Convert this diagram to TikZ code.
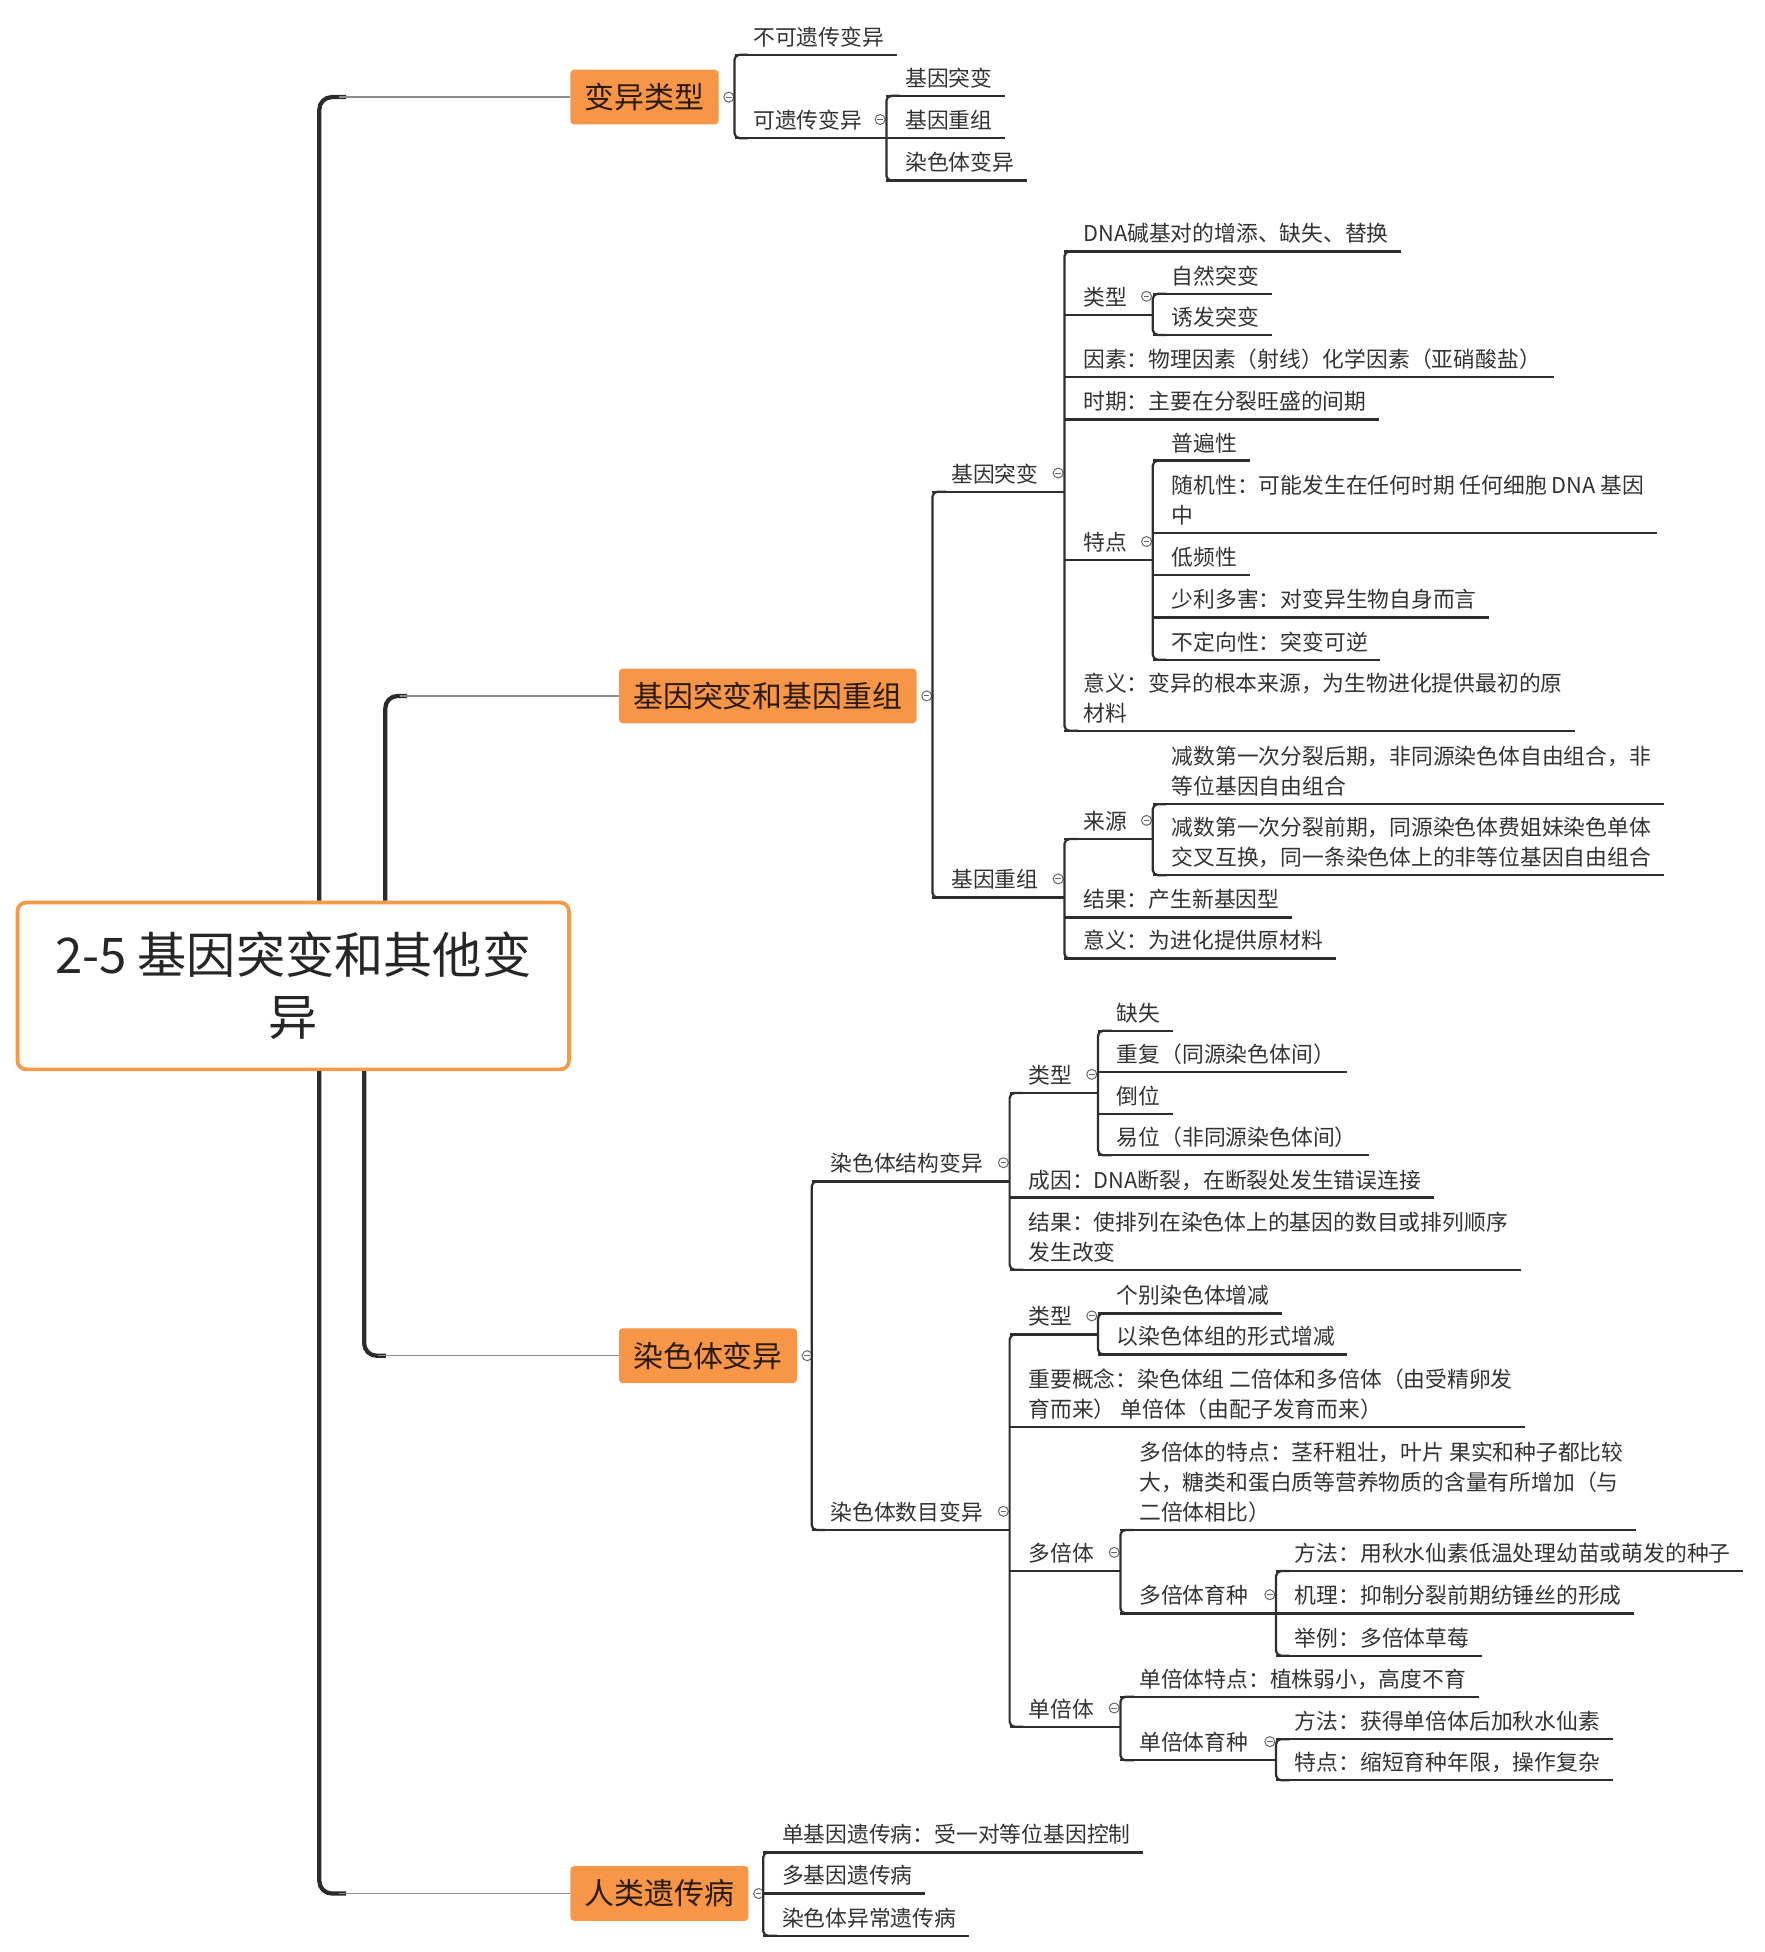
\documentclass[tikz,border=0pt]{standalone}
\usepackage{fontspec}
\setmainfont{Noto Sans CJK SC}
\usetikzlibrary{calc}
\definecolor{orng}{HTML}{F79646}
\definecolor{obord}{HTML}{F59A48}
\definecolor{txt}{HTML}{333333}
\definecolor{ln}{HTML}{2E2E2E}
\definecolor{toptxt}{HTML}{2A1A10}
\definecolor{trunkc}{HTML}{2B2B2B}
\tikzset{
  lf/.style={anchor=south west, inner sep=0pt, text depth=0pt, align=left,
    font=\fontsize{17.5}{24}\selectfont, text=txt},
  ul/.style={line width=1.8pt, draw=ln},
  vl/.style={line width=1.8pt, draw=ln, rounded corners=4pt},
  tog/.style={circle, draw=black!60, line width=0.8pt, fill=white, minimum size=8pt, inner sep=0pt},
  togdash/.style={draw=black!60, line width=0.7pt},
  topic/.style={fill=orng, rounded corners=3pt, font=\fontsize{24}{28}\selectfont, text=toptxt,
    inner xsep=11.5pt, inner ysep=0pt, minimum height=44pt, anchor=west},
  trunk/.style={line width=3.4pt, draw=trunkc, rounded corners=10pt},
  link/.style={line width=1.2pt, draw=black!45},
  mainbox/.style={draw=obord, line width=3pt, rounded corners=7pt, fill=white,
    minimum width=443pt, minimum height=134pt, align=center,
    font=\fontsize{39.5}{50}\selectfont, text=black!85}
}
\newcommand\lfnode[4]{%
  \node[lf] (#1) at (#2+15,#3-7.5) {#4};
  \draw[ul] (#2,#3) -- ($(#1.south east)+(10,7.5)$);}
\newcommand\prnode[5]{%
  \node[lf] (#1) at (#2+15,#3-7.5) {#4};
  \draw[ul] (#2,#3) -- (#5,#3);
  \node[tog] (#1c) at (#5-5,#3-15) {};
  \draw[togdash] ([xshift=-2.2pt]#1c.center) -- ([xshift=2.2pt]#1c.center);}
\newcommand\vbr[2]{%
  \draw[vl] ($(#1.south west)+(-4,7.5)$) -- ($(#1.south west)+(-15,7.5)$) -- ($(#2.south west)+(-15,7.5)$) -- ($(#2.south west)+(-4,7.5)$);}
\newcommand\topictog[1]{%
  \node[tog] (#1c) at ([xshift=8pt]#1.east) {};
  \draw[togdash] ([xshift=-2.2pt]#1c.center) -- ([xshift=2.2pt]#1c.center);}
\begin{document}
\begin{tikzpicture}[x=1pt,y=-1pt]
\useasboundingbox (0,0) rectangle (1417,1568);
\fill[white] (0,0) rectangle (1417,1568);

% main node
\node[mainbox] (main) at (235.5,792) {2-5 基因突变和其他变\\异};

% topics
\node[topic] (t1) at (458,78) {变异类型};
\node[topic] (t2) at (497,559) {基因突变和基因重组};
\node[topic] (t3) at (497,1089) {染色体变异};
\node[topic] (t4) at (458,1521) {人类遗传病};

% trunk
\draw[trunk] ([xshift=244pt]main.north west) |- ($(t1.west)+(-180,0)$);
\draw[link] ($(t1.west)+(-186,0)$) -- (t1.west);
\draw[trunk] ([xshift=297pt]main.north west) |- ($(t2.west)+(-170,0)$);
\draw[link] ($(t2.west)+(-176,0)$) -- (t2.west);
\draw[trunk] ([xshift=280pt]main.south west) |- ($(t3.west)+(-187,0)$);
\draw[link] ($(t3.west)+(-193,0)$) -- (t3.west);
\draw[trunk] ([xshift=244pt]main.south west) |- ($(t4.west)+(-180,0)$);
\draw[link] ($(t4.west)+(-186,0)$) -- (t4.west);

\topictog{t1}
\topictog{t2}
\topictog{t3}
\topictog{t4}

% ---------- section 1
\lfnode{a1}{590}{44}{不可遗传变异}
\prnode{a2}{590}{111}{可遗传变异}{712}
\lfnode{a21}{712}{77}{基因突变}
\lfnode{a22}{712}{111}{基因重组}
\lfnode{a23}{712}{145}{染色体变异}
\vbr{a1}{a2}
\vbr{a21}{a23}

% ---------- section 2
\prnode{b1}{749}{395}{基因突变}{855}
\lfnode{b11}{855}{202}{DNA碱基对的增添、缺失、替换}
\prnode{b12}{855}{253}{类型}{926}
\lfnode{b121}{926}{236}{自然突变}
\lfnode{b122}{926}{269}{诱发突变}
\lfnode{b13}{855}{303}{因素：物理因素（射线）化学因素（亚硝酸盐）}
\lfnode{b14}{855}{337}{时期：主要在分裂旺盛的间期}
\prnode{b15}{855}{450}{特点}{926}
\lfnode{b151}{926}{370}{普遍性}
\lfnode{b152}{926}{428}{随机性：可能发生在任何时期 任何细胞 DNA 基因\\中}
\lfnode{b153}{926}{462}{低频性}
\lfnode{b154}{926}{496}{少利多害：对变异生物自身而言}
\lfnode{b155}{926}{530}{不定向性：突变可逆}
\lfnode{b16}{855}{587}{意义：变异的根本来源，为生物进化提供最初的原\\材料}
\prnode{b2}{749}{721}{基因重组}{855}
\prnode{b21}{855}{674}{来源}{926}
\lfnode{b211}{926}{646}{减数第一次分裂后期，非同源染色体自由组合，非\\等位基因自由组合}
\lfnode{b212}{926}{703}{减数第一次分裂前期，同源染色体费姐妹染色单体\\交叉互换，同一条染色体上的非等位基因自由组合}
\lfnode{b22}{855}{737}{结果：产生新基因型}
\lfnode{b23}{855}{770}{意义：为进化提供原材料}
\vbr{b1}{b2}
\vbr{b11}{b16}
\vbr{b121}{b122}
\vbr{b151}{b155}
\vbr{b21}{b23}
\vbr{b211}{b212}

% ---------- section 3
\prnode{c1}{652}{949}{染色体结构变异}{811}
\prnode{c11}{811}{878}{类型}{882}
\lfnode{c111}{882}{828}{缺失}
\lfnode{c112}{882}{861}{重复（同源染色体间）}
\lfnode{c113}{882}{895}{倒位}
\lfnode{c114}{882}{928}{易位（非同源染色体间）}
\lfnode{c12}{811}{962}{成因：DNA断裂，在断裂处发生错误连接}
\lfnode{c13}{811}{1020}{结果：使排列在染色体上的基因的数目或排列顺序\\发生改变}
\prnode{c2}{652}{1229}{染色体数目变异}{811}
\prnode{c21}{811}{1072}{类型}{882}
\lfnode{c211}{882}{1055}{个别染色体增减}
\lfnode{c212}{882}{1088}{以染色体组的形式增减}
\lfnode{c22}{811}{1146}{重要概念：染色体组 二倍体和多倍体（由受精卵发\\育而来） 单倍体（由配子发育而来）}
\prnode{c23}{811}{1262}{多倍体}{900}
\lfnode{c231}{900}{1229}{多倍体的特点：茎秆粗壮，叶片 果实和种子都比较\\大，糖类和蛋白质等营养物质的含量有所增加（与\\二倍体相比）}
\prnode{c232}{900}{1296}{多倍体育种}{1025}
\lfnode{c2321}{1025}{1262}{方法：用秋水仙素低温处理幼苗或萌发的种子}
\lfnode{c2322}{1025}{1296}{机理：抑制分裂前期纺锤丝的形成}
\lfnode{c2323}{1025}{1330}{举例：多倍体草莓}
\prnode{c24}{811}{1387}{单倍体}{900}
\lfnode{c241}{900}{1363}{单倍体特点：植株弱小，高度不育}
\prnode{c242}{900}{1414}{单倍体育种}{1025}
\lfnode{c2421}{1025}{1397}{方法：获得单倍体后加秋水仙素}
\lfnode{c2422}{1025}{1430}{特点：缩短育种年限，操作复杂}
\vbr{c1}{c2}
\vbr{c11}{c13}
\vbr{c111}{c114}
\vbr{c21}{c24}
\vbr{c211}{c212}
\vbr{c231}{c232}
\vbr{c2321}{c2323}
\vbr{c241}{c242}
\vbr{c2421}{c2422}

% ---------- section 4
\lfnode{d1}{613}{1488}{单基因遗传病：受一对等位基因控制}
\lfnode{d2}{613}{1521}{多基因遗传病}
\lfnode{d3}{613}{1555}{染色体异常遗传病}
\vbr{d1}{d3}
\end{tikzpicture}
\end{document}
